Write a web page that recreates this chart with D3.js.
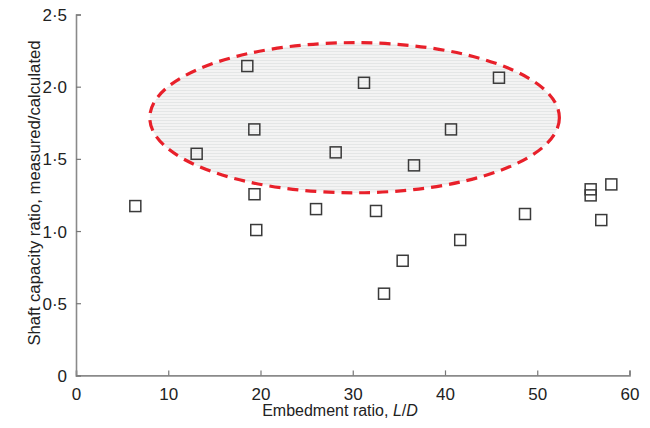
<!DOCTYPE html>
<html><head><meta charset="utf-8">
<script src="https://cdn.jsdelivr.net/npm/d3@7"></script>
<style>body{margin:0;background:#fff}svg{display:block}</style>
</head><body>
<script>
const embedment = [6.43,13.08,18.57,19.33,19.35,19.54,26.02,28.15,31.22,32.52,33.39,35.41,36.64,40.65,41.65,45.85,48.67,55.79,55.79,56.94,58.03];
const capacityRatio = [1.173,1.535,2.143,1.704,1.255,1.007,1.152,1.545,2.027,1.139,0.566,0.794,1.455,1.704,0.938,2.062,1.118,1.289,1.247,1.076,1.323];
const xTicks = [0,10,20,30,40,50,60];
const yTicks = [0,0.5,1.0,1.5,2.0,2.5];
const yTickLabels = ["0","0·5","1·0","1·5","2·0","2·5"];
const ellipseCentre = [30.2, 1.785];
const ellipseRadii = [22.2, 0.52];

const W=650,H=428;
const svg=d3.select("body").append("svg").attr("width",W).attr("height",H);
const x=d3.scaleLinear().domain([0,60]).range([76,629.5]);
const y=d3.scaleLinear().domain([0,2.5]).range([375.4,14.5]);
const font="'Liberation Sans', Arial, sans-serif";

const defs=svg.append("defs");
const pat=defs.append("pattern").attr("id","hatch").attr("patternUnits","userSpaceOnUse").attr("width",6).attr("height",3);
pat.append("rect").attr("width",6).attr("height",3).attr("fill","#f3f3f3");
pat.append("rect").attr("width",6).attr("height",1).attr("fill","#e4e6e6");

svg.append("ellipse")
  .attr("cx",x(ellipseCentre[0])).attr("cy",y(ellipseCentre[1]))
  .attr("rx",x(ellipseRadii[0])-x(0)).attr("ry",y(0)-y(ellipseRadii[1]))
  .attr("fill","url(#hatch)")
  .attr("stroke","#e8202a").attr("stroke-width",3.2)
  .attr("stroke-dasharray","11,7");

// axes
const xAxis=d3.axisBottom(x).tickValues(xTicks).tickSize(-5).tickPadding(9).tickFormat(d3.format("d"));
const gx=svg.append("g").attr("transform",`translate(0,${y(0)})`).call(xAxis);
const yAxis=d3.axisLeft(y).tickValues(yTicks).tickSize(-5).tickPadding(9).tickFormat((d,i)=>yTickLabels[i]);
const gy=svg.append("g").attr("transform",`translate(${x(0)},0)`).call(yAxis);
[gx,gy].forEach(g=>{
  g.select(".domain").attr("stroke","#8a8a8a").attr("stroke-width",1.6);
  g.selectAll(".tick line").attr("stroke","#777").attr("stroke-width",1.2);
  g.selectAll(".tick text").attr("font-family",font).attr("font-size",17).attr("fill","#222");
});
gx.selectAll(".tick text").attr("dy","0.9em");
gy.selectAll(".tick text").attr("dy","0.36em");

// points
const s=11;
svg.append("g").selectAll("rect").data(embedment).join("rect")
  .attr("x",(d)=>x(d)-s/2)
  .attr("y",(d,i)=>y(capacityRatio[i])-s/2)
  .attr("width",s).attr("height",s)
  .attr("fill","none").attr("stroke","#3a3a3a").attr("stroke-width",1.5);

// labels
const xl=svg.append("text").attr("x",340).attr("y",416).attr("text-anchor","middle")
  .attr("font-family",font).attr("font-size",16).attr("fill","#222");
xl.append("tspan").text("Embedment ratio, ");
xl.append("tspan").attr("font-style","italic").text("L");
xl.append("tspan").text("/");
xl.append("tspan").attr("font-style","italic").text("D");

svg.append("text").attr("transform","translate(40,193) rotate(-90)").attr("text-anchor","middle")
  .attr("font-family",font).attr("font-size",16.7).attr("fill","#222")
  .text("Shaft capacity ratio, measured/calculated");
</script>
</body></html>
